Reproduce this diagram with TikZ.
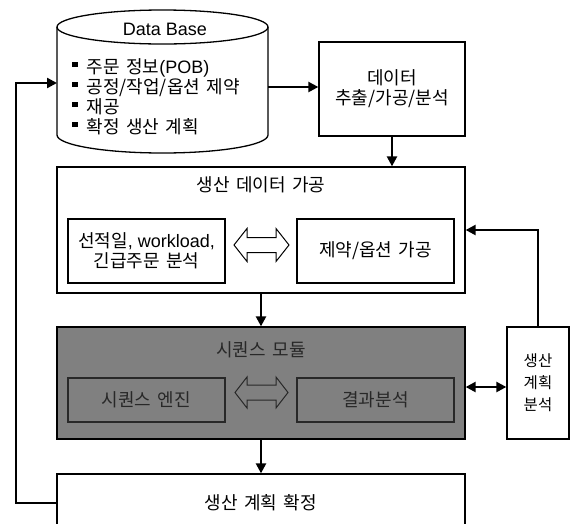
\documentclass[tikz,border=0pt]{standalone}
\usepackage{fontspec}
\setmainfont{Liberation Sans}
\newfontfamily\krfont[WordSpace=1.6]{Noto Sans CJK KR}
\newcommand\kr[1]{{\krfont #1}}
\usetikzlibrary{arrows.meta,calc}
\definecolor{seqgray}{RGB}{128,128,128}
\definecolor{seqtext}{RGB}{40,40,40}
\newcommand\fs{\fontsize{18}{20}\selectfont}
\newcommand\fsm{\fontsize{15.5}{22}\selectfont}
\newcommand\bul{\rule[6.5pt]{5.5pt}{5.5pt}\hspace{9pt}}
\tikzset{
  boxline/.style={draw=black, line width=1.3pt},
  box/.style={boxline, fill=white, inner sep=0pt, align=center, font=\fs},
  seqbox/.style={draw=seqtext, line width=1.3pt, inner sep=0pt, align=center, font=\fs, text=seqtext},
  conn/.style={line width=2.3pt, -{Triangle[length=10pt,width=10pt]}},
  biconn/.style={line width=2.3pt, {Triangle[length=10pt,width=10pt]}-{Triangle[length=10pt,width=10pt]}},
  txt/.style={inner sep=0pt, align=center, font=\fs},
  dblarrow/.style={line width=1pt, line join=miter},
}
\begin{document}
\begin{tikzpicture}[x=1pt,y=-1pt]
\useasboundingbox (0,0) rectangle (571,523);
\clip (0,0) rectangle (571,523);
% Database cylinder
\draw[boxline, fill=white] (57,135) -- (57,27) arc[start angle=180,end angle=0,x radius=105.5pt,y radius=17pt] -- (268,135) arc[start angle=0,end angle=-180,x radius=105.5pt,y radius=18pt] -- cycle;
\draw[boxline] (57,27) arc[start angle=180,end angle=360,x radius=105.5pt,y radius=17pt];
\node[txt] (dbtitle) at (165,29) {Data Base};
\node[txt, anchor=west, align=left] (dblist) at (72,97) {\bul\kr{주문 정보}(POB)\\\bul\kr{공정/작업/옵션 제약}\\\bul\kr{재공}\\\bul\kr{확정 생산 계획}};
\coordinate (dbR) at (268,87);
\coordinate (dbL) at (57,83);
% extraction box
\node[box, minimum width=146, minimum height=94] (ext) at (392,89) {\kr{데이터}\\\kr{추출/가공/분석}};
% production data processing
\node[box, minimum width=408, minimum height=126] (proc) at (261,230) {};
\node[txt] (proctitle) at (261,185) {\kr{생산 데이터 가공}};
\node[box, minimum width=157, minimum height=64] (pL) at (146.5,251) {\kr{선적일}, workload,\\\kr{긴급주문 분석}};
\node[box, minimum width=157, minimum height=64] (pR) at (375.5,251) {\kr{제약/옵션 가공}};
\draw[dblarrow, fill=white] (234,245) -- (247,228.5) -- (247,237.5) -- (276,237.5) -- (276,228.5) -- (289,245) -- (276,261.5) -- (276,252.5) -- (247,252.5) -- (247,261.5) -- cycle;
% sequence module
\node[boxline, fill=seqgray, minimum width=408, minimum height=112, inner sep=0pt] (seq) at (261,383) {};
\node[txt, text=seqtext] (seqtitle) at (261,350) {\kr{시퀀스 모듈}};
\node[seqbox, minimum width=157, minimum height=44] (sL) at (146.5,400) {\kr{시퀀스 엔진}};
\node[seqbox, minimum width=157, minimum height=44] (sR) at (375.5,400) {\kr{결과분석}};
\draw[dblarrow, draw=seqtext] (235,392.5) -- (247,377) -- (247,385) -- (276,385) -- (276,377) -- (288,392.5) -- (276,408) -- (276,400) -- (247,400) -- (247,408) -- cycle;
% analysis box
\node[box, font=\fsm, minimum width=62, minimum height=112] (ana) at (538,383) {\kr{생산}\\\kr{계획}\\\kr{분석}};
% final box
\node[box, minimum width=408, minimum height=58] (fin) at (261,503) {\kr{생산 계획 확정}};
% connectors
\draw[conn] (dbR) -- (dbR -| ext.west);
\draw[conn] (ext.south) -- (ext.south |- proc.north);
\draw[conn] (proc.south) -- (seq.north);
\draw[conn] (seq.south) -- (fin.north);
\draw[biconn] ([yshift=-4pt]seq.east) -- ([yshift=-4pt]ana.west);
\draw[conn] (ana.north) |- (proc.east);
\draw[conn] (fin.west) -- (16,503) |- (dbL);
\end{tikzpicture}
\end{document}
